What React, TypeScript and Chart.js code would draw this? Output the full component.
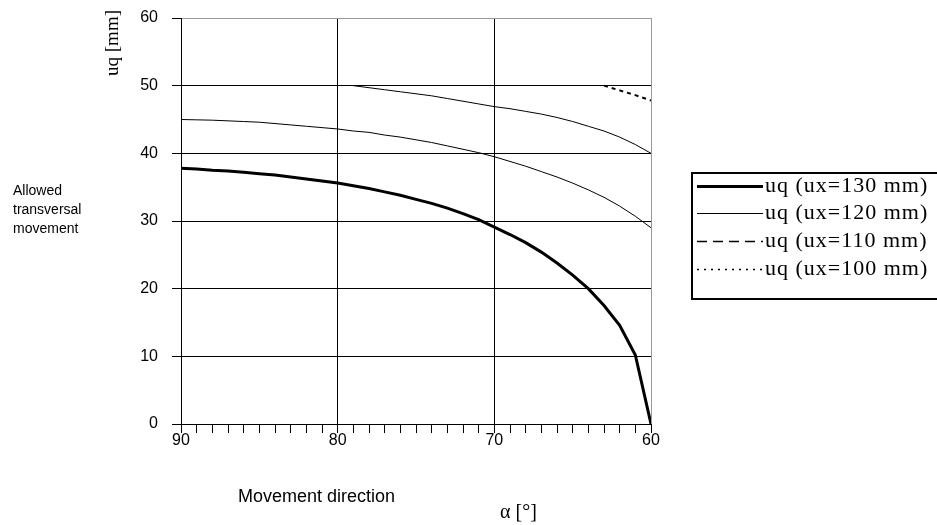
import React, { useEffect, useRef } from "react";
import { Chart, registerables } from "chart.js";

Chart.register(...registerables);

// Movement direction alpha [deg]
const angles = [90, 89, 88, 87, 86, 85, 84, 83, 82, 81, 80, 79, 78, 77, 76, 75, 74, 73, 72, 71, 70, 69, 68, 67, 66, 65, 64, 63, 62, 61, 60];

// uq for ux = 130 mm
const uq130 = [37.8, 37.7, 37.5, 37.4, 37.2, 37.0, 36.8, 36.5, 36.2, 35.9, 35.6, 35.2, 34.8, 34.3, 33.8, 33.2, 32.6, 31.9, 31.1, 30.2, 29.1, 28.0, 26.8, 25.4, 23.8, 22.0, 20.0, 17.5, 14.6, 10.2, 0];
// uq for ux = 120 mm
const uq120 = [45.0, 44.95, 44.9, 44.8, 44.7, 44.6, 44.4, 44.2, 44.0, 43.8, 43.6, 43.3, 43.1, 42.7, 42.4, 42.0, 41.6, 41.1, 40.6, 40.1, 39.5, 38.8, 38.1, 37.3, 36.5, 35.6, 34.6, 33.5, 32.2, 30.7, 29.0];
// uq for ux = 110 mm
const uq110 = [null, null, null, null, null, null, null, null, null, null, null, 50.0, 49.7, 49.4, 49.1, 48.8, 48.5, 48.1, 47.7, 47.3, 46.9, 46.6, 46.2, 45.8, 45.3, 44.7, 44.0, 43.3, 42.4, 41.3, 40.0];
// uq for ux = 100 mm
const uq100 = [null, null, null, null, null, null, null, null, null, null, null, null, null, null, null, null, null, null, null, null, null, null, null, null, null, null, null, 50.0, 49.3, 48.6, 47.8];

const seriesLabels = ["uq (ux=130 mm)", "uq (ux=120 mm)", "uq (ux=110 mm)", "uq (ux=100 mm)"];
const xTickLabels = [90, 80, 70, 60];
const yTicks = [0, 10, 20, 30, 40, 50, 60];

const toPoints = (vals: (number | null)[]) =>
  angles.map((a, i) => ({ x: a, y: vals[i] })).filter((p) => p.y !== null);

const SANS = "'Liberation Sans', Arial, sans-serif";
const SERIF = "'Liberation Serif', 'Times New Roman', serif";

const textPlugin = {
  id: "extraText",
  afterDraw(chart: any) {
    const ctx = chart.ctx;
    ctx.save();
    ctx.fillStyle = "#000";
    // y axis title (rotated)
    ctx.save();
    ctx.translate(113, 10);
    ctx.rotate(-Math.PI / 2);
    ctx.font = `19px ${SERIF}`;
    ctx.textAlign = "right";
    ctx.textBaseline = "middle";
    ctx.fillText("uq [mm]", 0, 0);
    ctx.restore();

    // side description
    ctx.font = `14px ${SANS}`;
    ctx.textAlign = "left";
    ctx.textBaseline = "middle";
    ctx.fillText("Allowed", 13, 191);
    ctx.fillText("transversal", 13, 210);
    ctx.fillText("movement", 13, 229);

    // x axis title
    ctx.font = `18px ${SANS}`;
    ctx.textAlign = "left";
    ctx.fillText("Movement direction", 238, 497);
    ctx.font = `20px ${SERIF}`;
    ctx.fillText("\u03B1 [\u00B0]", 500, 513);

    // legend
    const rows = [186, 213, 241, 269];
    const styles = [
      { w: 3, dash: [] as number[] },
      { w: 1, dash: [] as number[] },
      { w: 1.5, dash: [10, 6] },
      { w: 1.5, dash: [2, 5] },
    ];
    ctx.strokeStyle = "#000";
    ctx.lineWidth = 2;
    ctx.setLineDash([]);
    ctx.strokeRect(692, 173, 270, 126);
    ctx.font = `22px ${SERIF}`;
    ctx.textAlign = "left";
    ctx.textBaseline = "middle";
    try { (ctx as any).letterSpacing = "1px"; } catch (e) {}
    rows.forEach((y, i) => {
      ctx.beginPath();
      ctx.lineWidth = styles[i].w;
      ctx.setLineDash(styles[i].dash);
      ctx.moveTo(697, y + 0.5);
      ctx.lineTo(763, y + 0.5);
      ctx.stroke();
      ctx.fillText(seriesLabels[i], 765, y);
    });
    try { (ctx as any).letterSpacing = "0px"; } catch (e) {}
    ctx.setLineDash([]);
    ctx.restore();
  },
};

export default function App() {
  const ref = useRef<HTMLCanvasElement | null>(null);
  useEffect(() => {
    if (!ref.current) return;
    const chart = new Chart(ref.current, {
      type: "line",
      data: {
        datasets: [
          { label: seriesLabels[0], data: toPoints(uq130), borderColor: "#000", borderWidth: 3, pointRadius: 0, tension: 0 },
          { label: seriesLabels[1], data: toPoints(uq120), borderColor: "#000", borderWidth: 1, pointRadius: 0, tension: 0 },
          { label: seriesLabels[2], data: toPoints(uq110), borderColor: "#000", borderWidth: 1, pointRadius: 0, tension: 0 },
          { label: seriesLabels[3], data: toPoints(uq100), borderColor: "#000", borderWidth: 2, borderDash: [4, 4], pointRadius: 0, tension: 0 },
        ],
      },
      options: {
        responsive: false,
        animation: false,
        layout: { padding: { left: 0, top: 18, right: 286, bottom: 0 } },
        plugins: { legend: { display: false }, tooltip: { enabled: false } },
        scales: {
          x: {
            type: "linear",
            reverse: true,
            min: 60,
            max: 90,
            afterFit: (s: any) => { s.height = 101; s.paddingLeft = 0; s.paddingRight = 0; },
            ticks: {
              stepSize: 1,
              autoSkip: false,
              maxRotation: 0,
              padding: -2,
              color: "#000",
              font: { family: SANS, size: 16 },
              callback: (v: any) => (xTickLabels.includes(Number(v)) ? String(v) : ""),
            },
            grid: {
              color: (c: any) => (c.tick && (c.tick.value === 80 || c.tick.value === 70) ? "#000" : c.tick && c.tick.value === 60 ? "#999" : "rgba(0,0,0,0)"),
              tickColor: "#000",
              tickLength: 9,
              lineWidth: 1,
            },
            border: { color: "#000", width: 1 },
          },
          y: {
            min: 0,
            max: 60,
            afterFit: (s: any) => { s.width = 181; s.paddingTop = 0; s.paddingBottom = 0; },
            ticks: {
              stepSize: 10,
              padding: 14,
              color: "#000",
              font: { family: SANS, size: 16 },
              callback: (v: any) => (yTicks.includes(Number(v)) ? String(v) : ""),
            },
            grid: {
              color: (c: any) => (c.tick && c.tick.value === 60 ? "#999" : "#000"),
              tickColor: "#000",
              tickLength: 9,
              lineWidth: 1,
            },
            border: { color: "#000", width: 1 },
          },
        },
      },
      plugins: [textPlugin],
    } as any);
    return () => chart.destroy();
  }, []);
  return (
    <div style={{ position: "absolute", left: 0, top: 0, width: 937, height: 525, background: "#fff" }}>
      <canvas ref={ref} width={937} height={525} style={{ display: "block" }} />
    </div>
  );
}
